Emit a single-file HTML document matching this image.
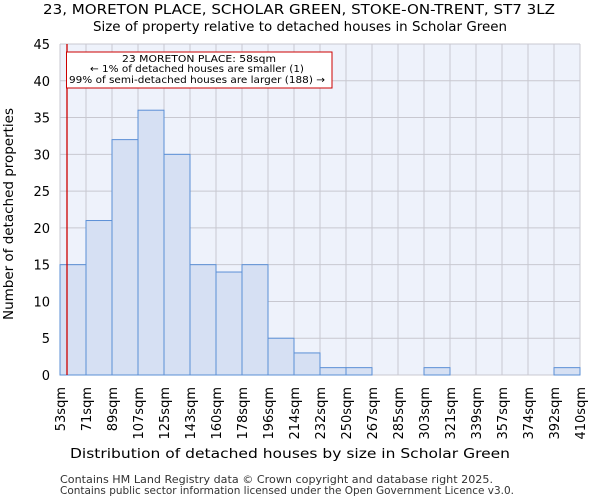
<!DOCTYPE html>
<html><head><meta charset="utf-8"><style>
body{margin:0;background:#fff;font-family:"DejaVu Sans","Liberation Sans",sans-serif;}
</style></head><body>
<svg id="chart" width="600" height="500" xmlns="http://www.w3.org/2000/svg" font-family="DejaVu Sans, Liberation Sans, sans-serif">
<text x="43" y="14" font-size="13" textLength="512" lengthAdjust="spacingAndGlyphs">23, MORETON PLACE, SCHOLAR GREEN, STOKE-ON-TRENT, ST7 3LZ</text>
<text x="93" y="31" font-size="13" textLength="414" lengthAdjust="spacingAndGlyphs">Size of property relative to detached houses in Scholar Green</text>
<rect x="60" y="44" width="520" height="331" fill="#eef2fb"/>
<g id="grid"></g><g id="bars"></g><g id="axes"></g>
<line id="marker" x1="67" x2="67" y1="44" y2="375" stroke="#cc0000" stroke-width="1.3"/>
<g>
<rect x="66.5" y="52" width="265.5" height="36" fill="#fff" stroke="#cc0000" stroke-width="1"/>
<text x="122" y="62" font-size="10" textLength="154" lengthAdjust="spacingAndGlyphs">23 MORETON PLACE: 58sqm</text>
<text x="90" y="72" font-size="10" textLength="214" lengthAdjust="spacingAndGlyphs">← 1% of detached houses are smaller (1)</text>
<text x="69" y="83" font-size="10" textLength="256" lengthAdjust="spacingAndGlyphs">99% of semi-detached houses are larger (188) →</text>
</g>
<text x="70" y="458" font-size="13" textLength="440" lengthAdjust="spacingAndGlyphs">Distribution of detached houses by size in Scholar Green</text>
<text transform="translate(13,320) rotate(-90)" font-size="13" textLength="212" lengthAdjust="spacingAndGlyphs">Number of detached properties</text>
<text x="60" y="483" font-size="10.5" fill="#333" textLength="433" lengthAdjust="spacingAndGlyphs">Contains HM Land Registry data © Crown copyright and database right 2025.</text>
<text x="60" y="494" font-size="10.5" fill="#333" textLength="454" lengthAdjust="spacingAndGlyphs">Contains public sector information licensed under the Open Government Licence v3.0.</text>
</svg>
<script>
const binLabels=["53sqm","71sqm","89sqm","107sqm","125sqm","143sqm","160sqm","178sqm","196sqm","214sqm","232sqm","250sqm","267sqm","285sqm","303sqm","321sqm","339sqm","357sqm","374sqm","392sqm","410sqm"];
const counts=[15,21,32,36,30,15,14,15,5,3,1,1,0,0,1,0,0,0,0,1];
const yTicks=[0,5,10,15,20,25,30,35,40,45];
const NS="http://www.w3.org/2000/svg";
const L=60,R=580,T=44,B=375,yMax=45;
const n=counts.length;
const x=i=>L+(R-L)*i/n;
const y=v=>B-(B-T)*v/yMax;
function mk(tag,attrs,parent){const e=document.createElementNS(NS,tag);for(const k in attrs)e.setAttribute(k,attrs[k]);document.getElementById(parent).appendChild(e);return e;}
yTicks.forEach(t=>{
 const g=mk('line',{x1:L,x2:R,y1:y(t),y2:y(t),stroke:'#c8c8d0','stroke-width':1},'grid');
 
 
 const lb=mk('text',{x:L-10,y:y(t)+5,'text-anchor':'end','font-size':13},'axes');
 lb.textContent=t;
 
 
});
binLabels.forEach((s,i)=>{
 const g=mk('line',{x1:x(i),x2:x(i),y1:T,y2:B,stroke:'#c8c8d0','stroke-width':1},'grid');
 
 
 const lb=mk('text',{transform:`translate(${x(i)+5},387) rotate(-90)`,'text-anchor':'end','font-size':13},'axes');
 lb.textContent=s;
 
 
});
counts.forEach((c,i)=>{
 if(c<=0)return;
 const r=mk('rect',{x:x(i),y:y(c),width:x(i+1)-x(i),height:B-y(c),fill:'#d6e0f3',stroke:'#5b8fd6','stroke-width':1},'bars');
 
 
});
</script>
</body></html>
